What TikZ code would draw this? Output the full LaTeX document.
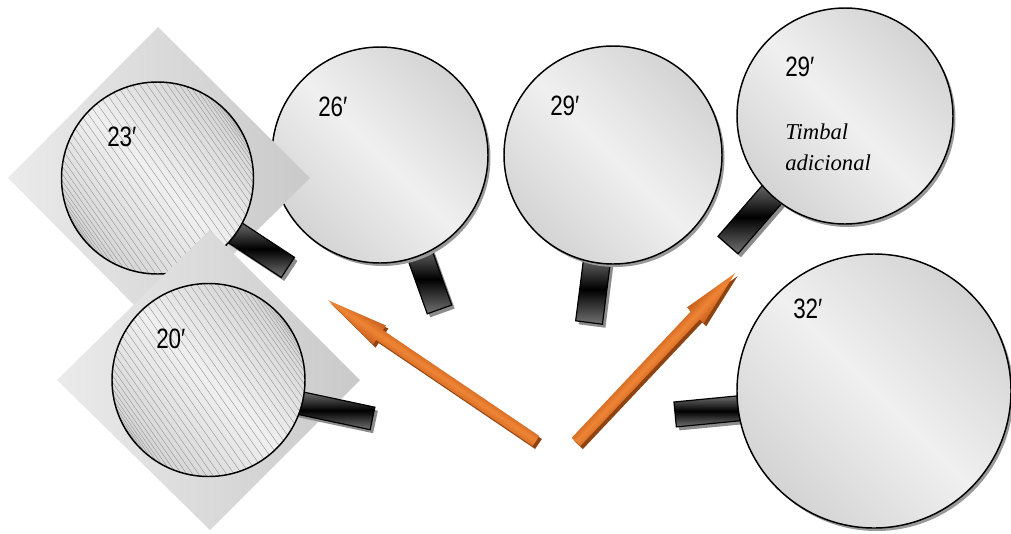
\documentclass[tikz,border=0pt]{standalone}
\usepackage{fontspec}
\setmainfont{Liberation Serif}
\newfontfamily\labelfont{Liberation Sans}
\usepackage{graphicx}
\definecolor{arrowedge}{HTML}{C65D1B}
\definecolor{arrowmid}{HTML}{EE8535}
\definecolor{arrowshadowc}{HTML}{8E4310}
\newcommand\drumhandle[5]{%
  \begin{scope}[shift={(#1+3,#2+3.5)}, rotate=#3]
    \fill[handleshadow] (-#4/2,-#5/2) rectangle (#4/2,#5/2);
  \end{scope}
  \begin{scope}[shift={(#1,#2)}, rotate=#3]
    \shade[handleshade] (-#4/2,-#5/2) rectangle (#4/2,#5/2);
  \end{scope}}
\newcommand\plaindrum[3]{%
  \fill[drumshadow] (#1+2.5,#2+3) circle[radius=#3];
  \shade[drumshade] (#1,#2) circle[radius=#3];
  \draw[drumline] (#1,#2) circle[radius=#3];}
\newcommand\hatchdrum[3]{%
  \shade[drumshade] (#1,#2) circle[radius=#3];
  \begin{scope}
    \clip (#1,#2) circle[radius=#3];
    \foreach \t in {-88,-84,...,88} {
      \pgfmathsetmacro\dd{#3*sin(\t)}
      \draw[hatchline] ({#1+\dd*0.819-120*0.574},{#2-\dd*0.574-120*0.819}) -- ({#1+\dd*0.819+120*0.574},{#2-\dd*0.574+120*0.819});
    }
  \end{scope}
  \draw[drumline] (#1,#2) circle[radius=#3];}
\newcommand\bigarrow[5]{%
  \begin{scope}[transform canvas={shift={(#1+2.5,#2+3)}, rotate=#3}]
    \fill[arrowshadowc] (0,-6) -- (#4-#5,-6) -- (#4-#5,-11.5) -- (#4,0) -- (#4-#5,11.5) -- (#4-#5,6) -- (0,6) -- cycle;
  \end{scope}
  \begin{scope}[transform canvas={shift={(#1,#2)}, rotate=#3}]
    \shade[arrowshade] (0,-6) -- (#4-#5,-6) -- (#4-#5,-11.5) -- (#4,0) -- (#4-#5,11.5) -- (#4-#5,6) -- (0,6) -- cycle;
  \end{scope}}
\begin{document}
\begin{tikzpicture}[x=0.75pt,y=-0.75pt,
  drumshade/.style={top color=black!17, bottom color=black!17, middle color=black!6, shading angle=-45},
  drumline/.style={draw=black, line width=1.1pt},
  drumshadow/.style={fill=black!40},
  handleshade/.style={top color=black!55, bottom color=black!55, middle color=black, draw=black, line width=0.9pt},
  handleshadow/.style={fill=black!45},
  diamondshade/.style={left color=black!8, right color=black!21},
  hatchline/.style={draw=black!42, line width=0.3pt},
  arrowshade/.style={top color=arrowedge, bottom color=arrowedge, middle color=arrowmid},
  numlabel/.style={anchor=base west, inner sep=0pt, font=\labelfont\fontsize{21}{21}\selectfont},
  italabel/.style={anchor=base west, inner sep=0pt, font=\itshape\fontsize{17}{17}\selectfont},
  ]
\useasboundingbox (0,0) rectangle (1011,533);

% 26' drum
\drumhandle{428.7}{279.3}{-70.3}{64}{26}
\plaindrum{380}{155}{108}

% 23' drum with square
\shade[diamondshade] (158,27) -- (310,178) -- (158,329) -- (8,178) -- cycle;
\drumhandle{259.9}{249}{-33.3}{67}{24}
\hatchdrum{157.5}{178}{96}

% 20' drum with square
\shade[diamondshade] (210,230) -- (360,380) -- (210,530) -- (57,380) -- cycle;
\drumhandle{334.6}{410.4}{-12}{77.5}{23}
\hatchdrum{208.5}{380}{96.5}

% 29' drum
\drumhandle{593.3}{289.3}{-97.3}{67}{27}
\plaindrum{613}{155}{109}

% 29' Timbal adicional
\drumhandle{752.1}{217.3}{-131}{73.5}{26.5}
\plaindrum{845}{116}{108}

% 32' drum
\drumhandle{710}{411.1}{5.5}{70}{25}
\plaindrum{874}{391}{137}

% arrows
\bigarrow{536}{441}{145.9}{251}{62}
\bigarrow{576}{442}{46.7}{232}{58}

% labels
\node[numlabel] (l23) at (107,146) {\scalebox{0.8}[1]{23′}};
\node[numlabel] (l20) at (156,348) {\scalebox{0.8}[1]{20′}};
\node[numlabel] (l26) at (318,116) {\scalebox{0.8}[1]{26′}};
\node[numlabel] (l29a) at (550,115) {\scalebox{0.8}[1]{29′}};
\node[numlabel] (l29b) at (785,76) {\scalebox{0.8}[1]{29′}};
\node[numlabel] (l32) at (793,318) {\scalebox{0.8}[1]{32′}};
\node[italabel] (t1) at (785,139) {Timbal};
\node[italabel] (t2) at (785,170) {adicional};
\end{tikzpicture}
\end{document}
